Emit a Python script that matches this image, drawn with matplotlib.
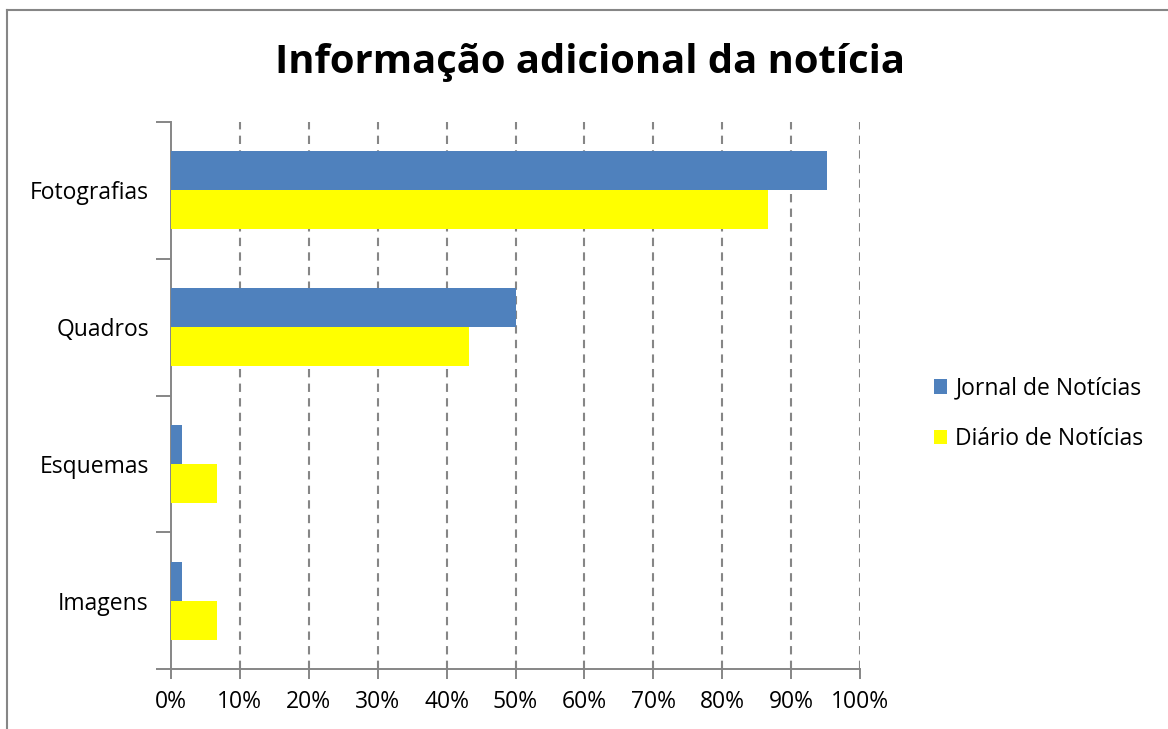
import numpy as np
import matplotlib.pyplot as plt
from matplotlib.lines import Line2D
from matplotlib.ticker import FuncFormatter, MultipleLocator, FixedLocator

plt.rcParams['font.family'] = ['Open Sans', 'DejaVu Sans']

# data
categories = ["Fotografias", "Quadros", "Esquemas", "Imagens"]
jornal = [95.2, 50.0, 1.6, 1.6]
diario = [86.7, 43.3, 6.7, 6.7]
series_names = ["Jornal de Notícias", "Diário de Notícias"]
colors = ["#4f81bd", "#ffff00"]

fig = plt.figure(figsize=(11.68, 7.29), dpi=100)
ax = fig.add_axes([171/1168, 1 - 669/729, (860-171)/1168, (669-122)/729])

y = np.arange(len(categories))
h = 0.285
ax.barh(y - h/2, jornal, height=h, color=colors[0], label=series_names[0], zorder=3)
ax.barh(y + h/2, diario, height=h, color=colors[1], label=series_names[1], zorder=3)

ax.set_xlim(0, 100)
ax.set_ylim(len(categories) - 0.5, -0.5)

ax.xaxis.set_major_locator(MultipleLocator(10))
ax.xaxis.set_major_formatter(FuncFormatter(lambda v, p: f"{v:.0f}%"))
for xv in range(10, 101, 10):
    ax.axvline(xv, color="#868686", linestyle=(0, (4, 3)), linewidth=1.5, zorder=1)

ax.set_yticks(y)
ax.set_yticklabels(categories)
ax.yaxis.set_minor_locator(FixedLocator(np.arange(-0.5, len(categories), 1)))
ax.tick_params(axis='y', which='major', length=0, pad=16, labelsize=16.5)
ax.tick_params(axis='y', which='minor', length=11, color="#868686", width=1.4)
ax.tick_params(axis='x', which='major', length=7, color="#868686", width=1.4, labelsize=16.5, pad=8)

for s in ["top", "right"]:
    ax.spines[s].set_visible(False)
for s in ["left", "bottom"]:
    ax.spines[s].set_color("#868686")
    ax.spines[s].set_linewidth(1.4)

fig.text(590/1168, 1 - 62/729, "Informação adicional da notícia", ha="center", va="center",
         fontsize=28.8, fontweight="bold")

ax.legend(loc="center left", bbox_to_anchor=(913/1168, 1 - 414/729), bbox_transform=fig.transFigure,
          frameon=False, fontsize=16.5, handlelength=0.6, handleheight=0.6, handletextpad=0.35,
          labelspacing=1.15)

# outer chart border (cropped at right/bottom)
fig.add_artist(Line2D([7/1168, 7/1168], [0, 1 - 10/729], transform=fig.transFigure, color="#868686", linewidth=1.5))
fig.add_artist(Line2D([7/1168, 1], [1 - 10/729, 1 - 10/729], transform=fig.transFigure, color="#868686", linewidth=1.5))

fig.savefig("out.png", dpi=100)
